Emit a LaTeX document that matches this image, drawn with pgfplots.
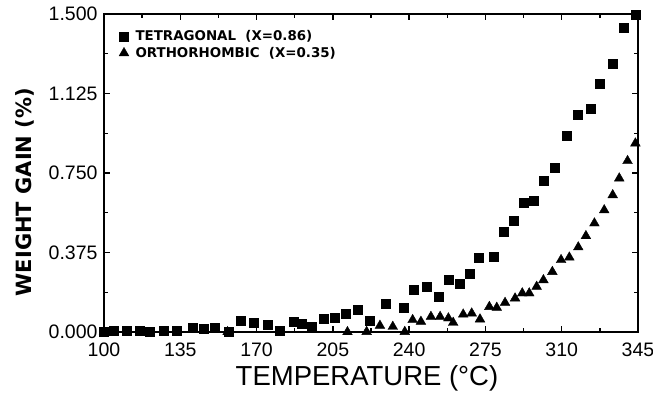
\documentclass[border=0pt]{standalone}
\usepackage{fontspec}
\setmainfont{Liberation Sans}
\newfontfamily\legfont{DejaVu Sans}
\usepackage{pgfplots}
\pgfplotsset{compat=1.18}
\begin{document}
\begin{tikzpicture}[x=1pt,y=1pt]
\path[use as bounding box] (-104pt,-66pt) rectangle (549pt,332pt);
\begin{axis}[
 at={(0pt,0pt)}, anchor=south west, scale only axis, width=534pt, height=318pt,
 xmin=100, xmax=345, ymin=0, ymax=1.5,
 xtick={100,135,170,205,240,275,310,345},
 ytick={0,0.375,0.75,1.125,1.5},
 minor x tick num=1, minor y tick num=1,
 tick align=inside, xtick pos=both, ytick pos=both,
 xticklabel pos=lower, yticklabel pos=left,
 major tick length=6pt, minor tick length=4pt,
 axis line style={line width=1.6pt},
 every tick/.style={black, line width=1.3pt},
 /pgf/number format/assume math mode=true,
 yticklabel style={/pgf/number format/.cd, fixed, fixed zerofill, precision=3, /tikz/.cd, xshift=-3pt},
 xticklabel style={/pgf/number format/.cd, fixed, precision=0, /tikz/.cd, yshift=-7pt},
 tick label style={font=\fontsize{19.5}{19.5}\selectfont},
 xlabel={TEMPERATURE (\textdegree C)},
 xlabel style={font=\fontsize{27.5}{27.5}\selectfont, at={(axis description cs:0.4925,-0.145)}, anchor=center},
 ylabel={WEIGHT GAIN (\%)},
 ylabel style={font=\legfont\bfseries\fontsize{21}{21}\selectfont, at={(axis description cs:-0.148,0.44)}, anchor=center},
 clip=false,
 legend style={draw=none, fill=none, at={(axis description cs:0.028,0.955)}, anchor=north west,
   font=\legfont\bfseries\fontsize{13.4}{15}\selectfont, row sep=1pt, inner sep=0pt},
 legend cell align=left,
]
\addplot[only marks, mark=square*, mark size=4.5pt, black] coordinates {
(100,0.000) (104.3,0.005) (110.4,0.005) (116.2,0.005) (120.8,0.002) (127.2,0.005)
(133.4,0.005) (140.5,0.020) (145.9,0.014) (150.9,0.022) (157.0,0.000) (162.7,0.053)
(168.5,0.044) (175.1,0.034) (180.7,0.006) (186.9,0.050) (190.7,0.038) (195.3,0.027)
(200.6,0.065) (206.0,0.067) (210.9,0.088) (216.4,0.105) (221.8,0.053) (229.4,0.132)
(237.3,0.115) (242.2,0.198) (248.1,0.214) (253.7,0.167) (258.3,0.249) (263.0,0.226)
(267.9,0.277) (272.0,0.350) (278.6,0.355) (283.2,0.472) (288.1,0.525) (292.4,0.612)
(297.0,0.618) (301.6,0.714) (306.9,0.777) (312.4,0.925) (317.2,1.027) (323.1,1.053)
(327.2,1.173) (333.2,1.264) (338.3,1.437) (343.9,1.495)
};
\addlegendentry{\ TETRAGONAL\ \ (X=0.86)}
\addplot[only marks, mark=triangle*, mark size=5.6pt, black] coordinates {
(100,0.000) (156.7,0.000) (211.7,0.000) (220.5,0.001) (226.6,0.030) (232.5,0.025)
(238.0,0.001) (241.6,0.057) (245.4,0.049) (250.0,0.072) (254.2,0.072) (258.0,0.065)
(260.2,0.044) (264.8,0.083) (268.7,0.088) (272.5,0.060) (276.8,0.119) (280.2,0.115)
(284.0,0.138) (288.6,0.159) (291.9,0.183) (295.1,0.183) (298.5,0.214) (301.6,0.245)
(305.7,0.284) (309.7,0.340) (313.5,0.352) (317.6,0.400) (321.1,0.453) (325.0,0.513)
(329.5,0.575) (333.4,0.646) (336.4,0.725) (340.2,0.807) (343.8,0.890)
};
\addlegendentry{\ ORTHORHOMBIC\ \ (X=0.35)}
\end{axis}
\end{tikzpicture}
\end{document}
